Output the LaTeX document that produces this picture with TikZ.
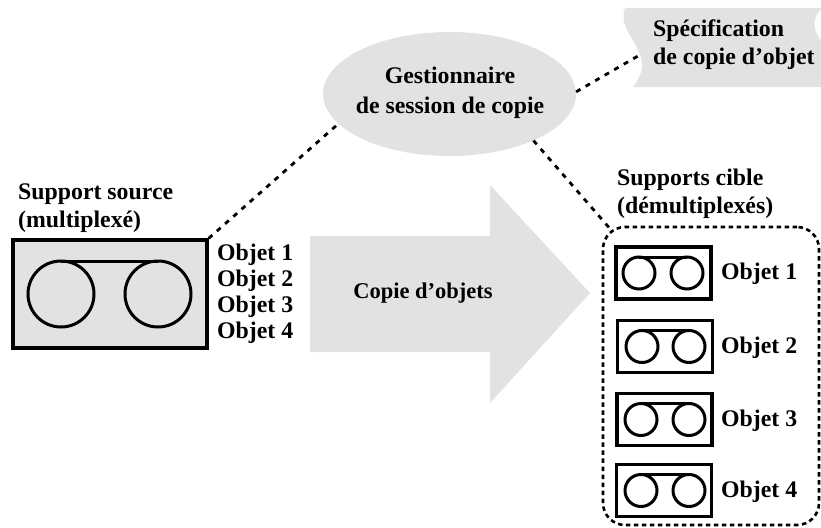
\documentclass[tikz,border=0pt]{standalone}
\usepackage{fontspec}
\setmainfont{Liberation Serif}
\usetikzlibrary{shapes.geometric}
\definecolor{pale}{RGB}{226,226,226}
\tikzset{
  x=1pt,y=-1pt,
  lbl/.style={font=\fontsize{23.8}{28}\selectfont\bfseries,inner sep=0pt,align=left},
  lnk/.style={line width=2.8pt,dash pattern=on 5pt off 6pt},
  bigbox/.style={draw=black,line width=3.2pt,fill=pale,minimum width=194pt,minimum height=108pt,inner sep=0pt},
  smallbox/.style={draw=black,line width=3.2pt,fill=white,minimum width=95pt,minimum height=52pt,inner sep=0pt},
  reel/.style={draw=black,line width=3pt},
}
\begin{document}
\begin{tikzpicture}
\useasboundingbox (0,0) rectangle (821,527);
% arrow
\fill[pale] (310,236) -- (490,236) -- (490,185) -- (590,293) -- (490,403) -- (490,352) -- (310,352) -- cycle;
\node[lbl,font=\fontsize{22.5}{28}\selectfont\bfseries] (copy) at (423,293) {Copie d’objets};
% spec shape
\fill[pale] (625,8) .. controls (618,28) and (638,40) .. (642,62) .. controls (643,72) and (638,80) .. (633,87) -- (821,87) -- (821,40) .. controls (814,32) and (811,20) .. (821,9) -- (821,8) -- cycle;
\node[lbl,anchor=west] (spec) at (653,45) {Spécification\\de copie d’objet};
\coordinate (specl) at (638,56);
% session
\node[ellipse,fill=pale,minimum width=253pt,minimum height=124pt,inner sep=0pt] (sess) at (449.5,94) {};
\node[lbl,align=center,font=\fontsize{23.8}{30}\selectfont\bfseries] (sessl) at (450,93) {Gestionnaire\\de session de copie};
% source
\node[bigbox] (src) at (110,294) {};
\draw[reel] (61,294) circle (33);
\draw[reel] (158,294) circle (33);
\draw[reel] (61,261) -- (158,261);
\node[lbl,anchor=west] (srct) at (18,208) {Support source\\(multiplexé)};
\node[lbl,anchor=west,font=\fontsize{23.8}{26}\selectfont\bfseries] (srco) at (217,294) {Objet 1\\Objet 2\\Objet 3\\Objet 4};
% target
\node[draw=black,rounded corners=22pt,minimum width=216pt,minimum height=298pt,line width=2.6pt,dash pattern=on 4.5pt off 3.5pt] (tgt) at (711,376) {};
\coordinate (tgtc) at (612,231);
\node[lbl,anchor=west] (tgtt) at (617,194) {Supports cible\\(démultiplexés)};
\foreach \n/\bx/\by/\cl/\cr in {1/663.5/273/639/687,2/665/346.5/642/689,3/664.5/419.5/641/689,4/664/490.5/641/689}{
  \node[smallbox] (b\n) at (\bx,\by) {};
  \draw[reel] (\cl,\by) circle (16);
  \draw[reel] (\cr,\by) circle (16);
  \draw[reel] (\cl,\by-16) -- (\cr,\by-16);
  \node[lbl,anchor=west] (o\n) at (721,\by+1) {Objet \n};
}
% connectors
\draw[lnk] (src.north east) -- (sess.195.7);
\draw[lnk] (sess.1) -- (specl);
\draw[lnk] (sess.-29) -- (tgtc);
\end{tikzpicture}
\end{document}
